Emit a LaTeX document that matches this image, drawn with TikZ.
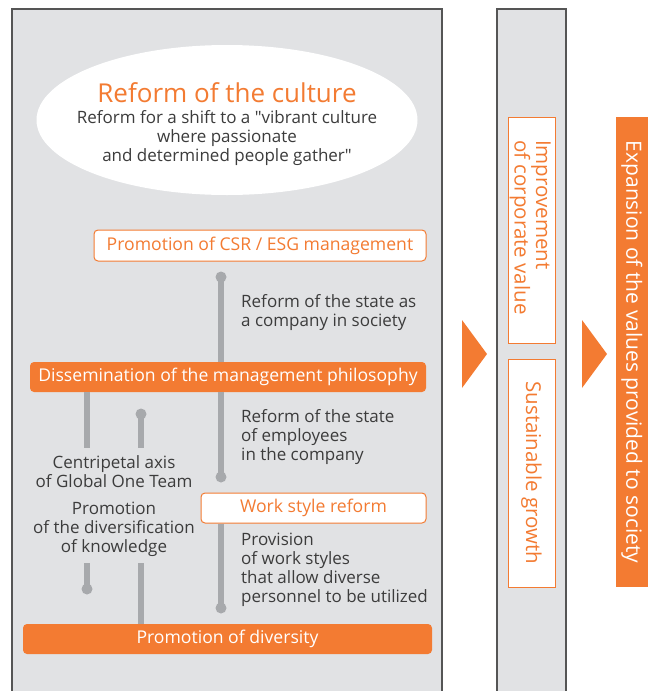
\documentclass[tikz,border=0pt]{standalone}
\usepackage{fontspec}
\setmainfont{Open Sans}
\usetikzlibrary{shapes.geometric}
\definecolor{orng}{HTML}{F37B32}
\definecolor{panelfill}{HTML}{E1E2E4}
\definecolor{panelline}{HTML}{555555}
\definecolor{connc}{HTML}{A7A9AC}
\definecolor{txt}{HTML}{3C3C3C}
\tikzset{
  panel/.style={fill=panelfill},
  panelborder/.style={draw=panelline, line width=1.3pt},
  whitebox/.style={draw=orng, fill=white, line width=1pt, rounded corners=4pt, text=orng, inner sep=0pt, font=\fontsize{17.6}{20}\selectfont},
  orangebox/.style={fill=orng, rounded corners=4pt, text=white, inner sep=0pt, font=\fontsize{17.6}{20}\selectfont},
  vbox/.style={draw=orng, fill=white, line width=1pt, text=orng, inner sep=0pt, rotate=-90, align=left, font=\fontsize{20.5}{20}\selectfont},
  body/.style={text=txt, inner sep=0pt, font=\fontsize{17}{19}\selectfont},
  conn/.style={draw=connc, line width=5.5pt},
  dotc/.style={fill=connc},
  arrowtri/.style={fill=orng}
}
\begin{document}
\begin{tikzpicture}[x=1pt,y=-1pt]
\useasboundingbox (0,0) rectangle (656,691);
% panels
\fill[panel] (12,9) rectangle (442,700);
\draw[panelborder] (12,700) -- (12,9) -- (442,9) -- (442,700);
\fill[panel] (497,9) rectangle (566,700);
\draw[panelborder] (497,700) -- (497,9) -- (566,9) -- (566,700);
% ellipse
\node[ellipse, fill=white, minimum width=381pt, minimum height=150pt, inner sep=0pt] (ell) at (227,120) {};
\node[text=orng, inner sep=0pt, font=\fontsize{26}{28}\selectfont] (title) at (227,93) {Reform of the culture};
\node[body, align=center] (sub) at (227,138) {Reform for a shift to a \textquotedbl vibrant culture\\where passionate\\and determined people gather\textquotedbl};
% boxes
\node[whitebox, minimum width=332pt, minimum height=31pt] (csr) at (260,245.5) {Promotion of CSR / ESG management};
\node[orangebox, minimum width=396pt, minimum height=30pt] (dissem) at (228,377) {Dissemination of the management philosophy};
\node[whitebox, minimum width=225pt, minimum height=30pt] (work) at (313.5,508) {Work style reform};
\node[orangebox, minimum width=409pt, minimum height=30pt] (div) at (227.5,639) {Promotion of diversity};
% connectors
\coordinate (d1) at (221,277);
\coordinate (d2) at (221,477);
\coordinate (d3) at (221,608);
\coordinate (c1) at (87,448);
\coordinate (d4) at (141,414);
\coordinate (c2) at (141,448);
\coordinate (c3) at (87,563);
\coordinate (d5) at (87,589);
\coordinate (c4) at (141,563);
\draw[conn] (d1) -- (d1 |- dissem.north);
\draw[conn] (d2 |- dissem.south) -- (d2);
\draw[conn] (d3 |- work.south) -- (d3);
\draw[conn] (c1 |- dissem.south) -- (c1);
\draw[conn] (d4) -- (c2);
\draw[conn] (c3) -- (d5);
\draw[conn] (c4) -- (c4 |- div.north);
\foreach \p in {d1,d2,d3,d4,d5} \fill[dotc] (\p) circle (5.5pt);
% body texts
\node[body, align=left, anchor=west] (t1) at (241,312.5) {Reform of the state as\\a company in society};
\node[body, align=left, anchor=west] (t2) at (241,437) {Reform of the state\\of employees\\in the company};
\node[body, align=left, anchor=west] (t3) at (241,569.5) {Provision\\of work styles\\that allow diverse\\personnel to be utilized};
\node[body, align=center] (t4) at (114,471.5) {Centripetal axis\\of Global One Team};
\node[body, align=center] (t5) at (114,529) {Promotion\\of the diversification\\of knowledge};
% right column
\node[vbox, minimum width=226pt, minimum height=47pt] (impr) at (531.5,230) {};
\node[text=orng, rotate=-90, inner sep=0pt, align=left, anchor=north west, font=\fontsize{20.5}{20}\selectfont] (imprtext) at (551,140) {Improvement\\of corporate value};
\node[vbox, minimum width=228pt, minimum height=47pt] (sust) at (531.5,473) {Sustainable growth};
\node[fill=orng, text=white, rotate=-90, inner sep=0pt, minimum width=470pt, minimum height=32pt, font=\fontsize{21}{22}\selectfont] (expn) at (632,352) {Expansion of the values provided to society};
% arrows
\fill[arrowtri] (462,320) -- (487,354) -- (462,388) -- cycle;
\fill[arrowtri] (582,320) -- (607,354) -- (582,388) -- cycle;
\end{tikzpicture}
\end{document}
